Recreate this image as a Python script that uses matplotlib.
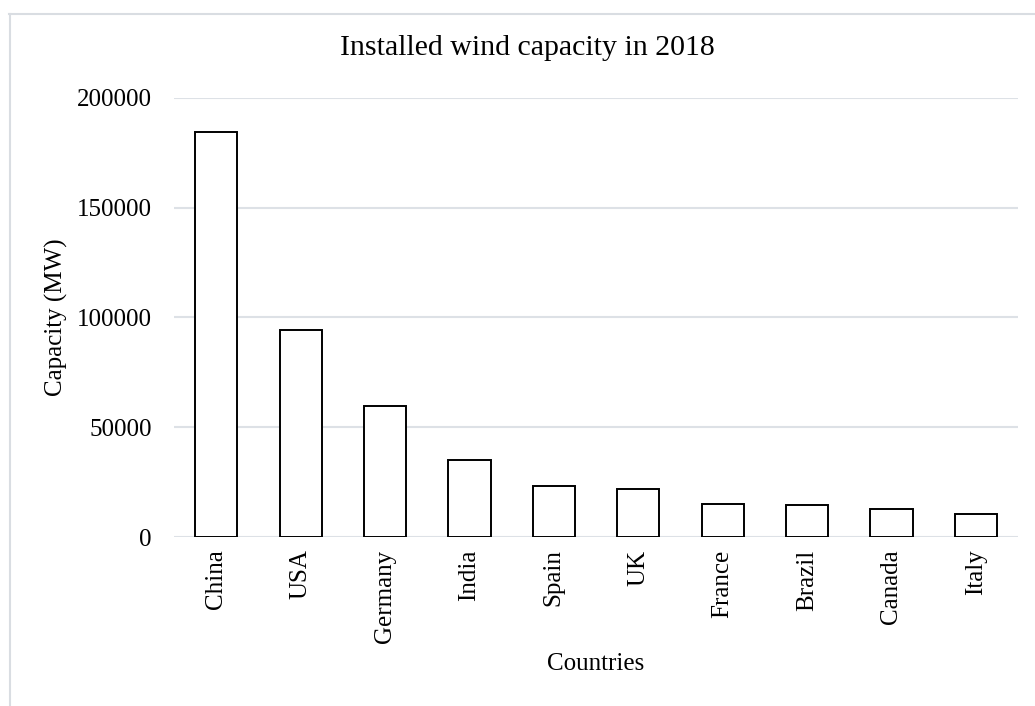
import matplotlib
matplotlib.use("Agg")
import matplotlib.pyplot as plt
from matplotlib.lines import Line2D

# Installed wind capacity by country, 2018 (MW)
countries = ["China", "USA", "Germany", "India", "Spain",
             "UK", "France", "Brazil", "Canada", "Italy"]
capacity_mw = [184600, 94300, 59500, 35200, 23400,
               21700, 15100, 14500, 12800, 10400]
y_ticks = [0, 50000, 100000, 150000, 200000]

W, H = 1035, 706
grid_color = "#dde1e6"

plt.rcParams["font.family"] = ["Liberation Serif", "DejaVu Serif"]

fig = plt.figure(figsize=(W / 100, H / 100), dpi=100)
ax = fig.add_axes([174 / W, (H - 537) / H, 844 / W, 439 / H])

ax.bar(range(len(countries)), capacity_mw, width=0.5,
       facecolor="white", edgecolor="black", linewidth=1.4, zorder=3)

ax.set_xlim(-0.5, len(countries) - 0.5)
ax.set_ylim(0, 200000)
ax.set_yticks(y_ticks)
ax.set_yticklabels([str(v) for v in y_ticks])
ax.set_xticks(range(len(countries)))
ax.set_xticklabels(countries, rotation=90)

ax.grid(axis="y", color=grid_color, linewidth=1.5, zorder=0)
for side in ["top", "right", "left", "bottom"]:
    ax.spines[side].set_visible(False)
ax.tick_params(axis="both", length=0, labelsize=18)
ax.tick_params(axis="y", pad=16)
ax.tick_params(axis="x", pad=9)

ax.set_ylabel("Capacity (MW)", fontsize=18)
ax.yaxis.set_label_coords(-0.1256, 0.5)
ax.set_xlabel("Countries", fontsize=18)
ax.xaxis.set_label_coords(0.5, -0.265)

fig.text(527 / W, 1 - 48 / H, "Installed wind capacity in 2018",
         fontsize=21.5, ha="center", va="center")

# chart area frame (left and top edges)
fig.add_artist(Line2D([9.5 / W, 9.5 / W], [0, 1 - 14 / H],
                      transform=fig.transFigure, color="#d9dde2", lw=1.5))
fig.add_artist(Line2D([9 / W, 1], [1 - 14 / H, 1 - 14 / H],
                      transform=fig.transFigure, color="#d9dde2", lw=1.5))

fig.savefig("out.png", dpi=100)
